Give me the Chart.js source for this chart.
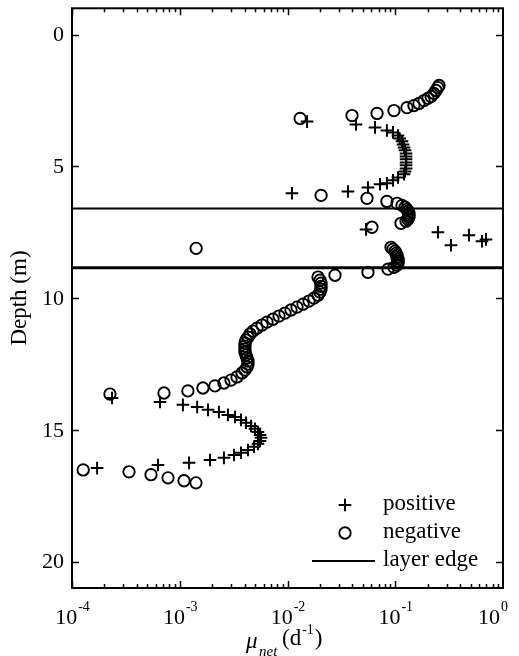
<!DOCTYPE html>
<html>
<head>
<meta charset="utf-8">
<script src="https://cdn.jsdelivr.net/npm/chart.js@4.4.0/dist/chart.umd.min.js"></script>
<style>
  html, body { margin: 0; padding: 0; background: #fff; }
</style>
</head>
<body>
<canvas id="profile" width="519" height="656"></canvas>
<script>
// net growth rate profile: '+' where mu_net > 0, 'o' where mu_net < 0 (magnitude shown)
var posDepth = [3.30, 3.41, 3.52, 3.64, 3.71, 3.83, 3.94, 4.05, 4.17, 4.28, 4.39, 4.51, 4.62, 4.73, 4.85, 4.96, 5.08,
  5.19, 5.30, 5.42, 5.53, 5.64, 5.68, 5.80, 5.95, 6.02,
  7.39, 7.50, 7.61, 7.77, 7.84, 7.99,
  13.79, 13.94, 14.05, 14.13, 14.24, 14.32, 14.43, 14.51, 14.62, 14.73, 14.85, 14.96, 15.08, 15.19, 15.30,
  15.42, 15.53, 15.64, 15.76, 15.87, 15.95, 16.06, 16.14, 16.25, 16.33, 16.45];
var posRate = [0.0152, 0.0432, 0.0649, 0.0837, 0.0953, 0.106, 0.110, 0.1156, 0.118, 0.1207, 0.1233, 0.126, 0.126, 0.126, 0.126, 0.126, 0.126,
  0.1233, 0.1207, 0.106, 0.0953, 0.0837, 0.0722, 0.0558, 0.0364, 0.0110,
  0.0536, 0.249, 0.483, 0.695, 0.638, 0.329,
  0.000235, 0.000656, 0.00107, 0.00145, 0.00183, 0.00231, 0.00280, 0.00326, 0.00370, 0.00412, 0.00459, 0.00499, 0.00532, 0.00556, 0.00568,
  0.00556, 0.00532, 0.00489, 0.00430, 0.00370, 0.00319, 0.00257, 0.00191, 0.00122, 0.000628, 0.000171];

var negDepth = [1.93, 2.01, 2.12, 2.23, 2.35, 2.42, 2.50, 2.61, 2.69, 2.77, 2.88, 2.99, 3.07, 3.18,
  6.10, 6.21, 6.33, 6.40, 6.48, 6.55, 6.63, 6.70, 6.78, 6.86, 6.93, 7.01, 7.08, 7.16, 7.31,
  8.11,
  8.07, 8.14, 8.22, 8.30, 8.37, 8.45, 8.52, 8.60, 8.67, 8.75, 8.83, 8.90, 9.02, 9.13,
  9.20, 9.32, 9.43, 9.55, 9.66, 9.77, 9.89, 10.00, 10.11, 10.23, 10.34, 10.45, 10.57, 10.68, 10.80, 10.91,
  11.02, 11.14, 11.25, 11.36, 11.48, 11.59, 11.70, 11.82, 11.93, 12.05, 12.16, 12.27, 12.39, 12.50, 12.61,
  12.73, 12.84, 12.99, 13.11, 13.22, 13.33, 13.41, 13.52, 13.60,
  13.64,
  16.52, 16.59, 16.70, 16.82, 16.93, 17.01];
var negRate = [0.255, 0.249, 0.239, 0.229, 0.215, 0.201, 0.185, 0.166, 0.149, 0.1285, 0.0973, 0.0678, 0.0397, 0.0131,
  0.0205, 0.0547, 0.0837, 0.1038, 0.1156, 0.1233, 0.1285, 0.1312, 0.134, 0.134, 0.134, 0.131, 0.126, 0.113, 0.0608,
  0.00142,
  0.0914, 0.0953, 0.0995, 0.1016, 0.1038, 0.1038, 0.1062, 0.1062, 0.1062, 0.1038, 0.0973, 0.0857, 0.0558, 0.0276,
  0.01919, 0.02002, 0.02046, 0.02046, 0.02046, 0.02002, 0.01919, 0.01761, 0.01583, 0.01393, 0.01225, 0.01078, 0.00948, 0.00834, 0.00733, 0.00645,
  0.00580, 0.00521, 0.00478, 0.00449, 0.00430, 0.00412, 0.00403, 0.00403, 0.00403, 0.00403, 0.00412, 0.00421, 0.00430, 0.00430, 0.00421,
  0.00403, 0.00378, 0.00340, 0.00299, 0.00257, 0.00212, 0.00164, 0.00119, 0.000714,
  0.000225,
  0.000127, 0.000338, 0.000541, 0.000778, 0.001095, 0.001415];

var layerEdges = [6.60, 8.85];
var layerWidths = [2, 3];

var depthTicks = [0, 5, 10, 15, 20];
var rateTicks = [1e-4, 1e-3, 1e-2, 1e-1, 1];
var rateTickExp = ['-4', '-3', '-2', '-1', '0'];

var SERIF = '"Liberation Serif", "DejaVu Serif", serif';

function toPoints(xs, ys) {
  return ys.map(function (d, i) { return { x: xs[i], y: d }; });
}

var datasets = [
  {
    label: 'positive',
    data: toPoints(posRate, posDepth),
    pointStyle: 'cross',
    pointRadius: 6.3,
    pointBorderWidth: 2,
    borderColor: '#000',
    backgroundColor: 'rgba(0,0,0,0)',
    showLine: false
  },
  {
    label: 'negative',
    data: toPoints(negRate, negDepth),
    pointStyle: 'circle',
    pointRadius: 5.7,
    pointBorderWidth: 1.9,
    borderColor: '#000',
    backgroundColor: 'rgba(0,0,0,0)',
    showLine: false
  }
];

layerEdges.forEach(function (d, i) {
  datasets.push({
    label: i === 0 ? 'layer edge' : '',
    data: [{ x: rateTicks[0], y: d }, { x: rateTicks[rateTicks.length - 1], y: d }],
    showLine: true,
    borderColor: '#000',
    borderWidth: layerWidths[i],
    pointRadius: 0
  });
});

// box, inward ticks, tick labels, axis titles and the legend
var frame = {
  id: 'frame',
  afterDraw: function (chart) {
    var ctx = chart.ctx;
    var a = chart.chartArea;
    var xs = chart.scales.x, ys = chart.scales.y;
    ctx.save();
    ctx.strokeStyle = '#000';
    ctx.fillStyle = '#000';
    ctx.lineWidth = 2;
    ctx.strokeRect(a.left, a.top, a.right - a.left, a.bottom - a.top);

    ctx.lineWidth = 1.5;
    ctx.beginPath();
    depthTicks.forEach(function (t) {
      var y = Math.round(ys.getPixelForValue(t)) + 0.5;
      ctx.moveTo(a.left, y); ctx.lineTo(a.left + 7, y);
      ctx.moveTo(a.right, y); ctx.lineTo(a.right - 7, y);
    });
    for (var e = -4; e < 0; e++) {
      for (var m = 1; m <= 9; m++) {
        var px = Math.round(xs.getPixelForValue(m * Math.pow(10, e))) + 0.5;
        var len = m === 1 ? 7 : 4;
        ctx.moveTo(px, a.bottom); ctx.lineTo(px, a.bottom - len);
        ctx.moveTo(px, a.top); ctx.lineTo(px, a.top + len);
      }
    }
    ctx.stroke();

    // depth labels
    ctx.font = '22px ' + SERIF;
    ctx.textAlign = 'right';
    ctx.textBaseline = 'middle';
    depthTicks.forEach(function (t) {
      ctx.fillText(String(t), a.left - 8, ys.getPixelForValue(t) + 1);
    });

    // rate labels, 10 with raised exponent; the last one is kept inside the canvas
    rateTicks.forEach(function (t, i) {
      var px = xs.getPixelForValue(t);
      ctx.font = '22px ' + SERIF;
      var wb = ctx.measureText('10').width;
      ctx.font = '14px ' + SERIF;
      var we = ctx.measureText(rateTickExp[i]).width;
      var x0 = Math.min(px - (wb + we) / 2, 478);
      ctx.textAlign = 'left';
      ctx.textBaseline = 'alphabetic';
      ctx.font = '22px ' + SERIF;
      ctx.fillText('10', x0, 624);
      ctx.font = '14px ' + SERIF;
      ctx.fillText(rateTickExp[i], x0 + wb + 1, 611);
    });

    // x title
    ctx.textBaseline = 'alphabetic';
    ctx.font = 'italic 23px ' + SERIF;
    ctx.fillText('\u03bc', 246, 648);
    ctx.font = 'italic 15px ' + SERIF;
    ctx.fillText('net', 259, 656);
    ctx.font = '23px ' + SERIF;
    ctx.fillText('(d', 282, 645);
    var wd = ctx.measureText('(d').width;
    ctx.font = '14px ' + SERIF;
    ctx.fillText('-1', 282 + wd + 1, 634);
    var w1 = ctx.measureText('-1').width;
    ctx.font = '23px ' + SERIF;
    ctx.fillText(')', 282 + wd + w1 + 2, 645);

    // y title
    ctx.save();
    ctx.translate(26, 298);
    ctx.rotate(-Math.PI / 2);
    ctx.textAlign = 'center';
    ctx.font = '23px ' + SERIF;
    ctx.fillText('Depth (m)', 0, 0);
    ctx.restore();

    // legend
    var lx = 345, tx = 383;
    var rows = [505, 533, 561];
    ctx.font = '23px ' + SERIF;
    ctx.textAlign = 'left';
    ctx.textBaseline = 'middle';
    ctx.lineWidth = 2;
    ctx.beginPath();
    ctx.moveTo(lx - 6.3, rows[0]); ctx.lineTo(lx + 6.3, rows[0]);
    ctx.moveTo(lx, rows[0] - 6.3); ctx.lineTo(lx, rows[0] + 6.3);
    ctx.stroke();
    ctx.lineWidth = 1.9;
    ctx.beginPath();
    ctx.arc(lx, rows[1], 5.7, 0, Math.PI * 2);
    ctx.stroke();
    ctx.lineWidth = 2;
    ctx.beginPath();
    ctx.moveTo(312, rows[2]); ctx.lineTo(375, rows[2]);
    ctx.stroke();
    ctx.fillText(datasets[0].label, tx, rows[0] - 1);
    ctx.fillText(datasets[1].label, tx, rows[1] - 1);
    ctx.fillText(datasets[2].label, tx, rows[2] - 1);
    ctx.restore();
  }
};

new Chart(document.getElementById('profile'), {
  type: 'scatter',
  data: { datasets: datasets },
  options: {
    responsive: false,
    devicePixelRatio: 1,
    animation: false,
    layout: { padding: { top: 8, right: 16, left: 0, bottom: 0 } },
    plugins: { legend: { display: false }, tooltip: { enabled: false } },
    scales: {
      x: {
        type: 'logarithmic',
        min: 1e-4,
        max: 1,
        grid: { display: false },
        border: { display: false },
        ticks: { display: false },
        afterFit: function (s) { s.height = 68; }
      },
      y: {
        type: 'linear',
        reverse: true,
        min: -1,
        max: 21,
        grid: { display: false },
        border: { display: false },
        ticks: { display: false },
        afterFit: function (s) { s.width = 72; }
      }
    }
  },
  plugins: [frame]
});
</script>
</body>
</html>
